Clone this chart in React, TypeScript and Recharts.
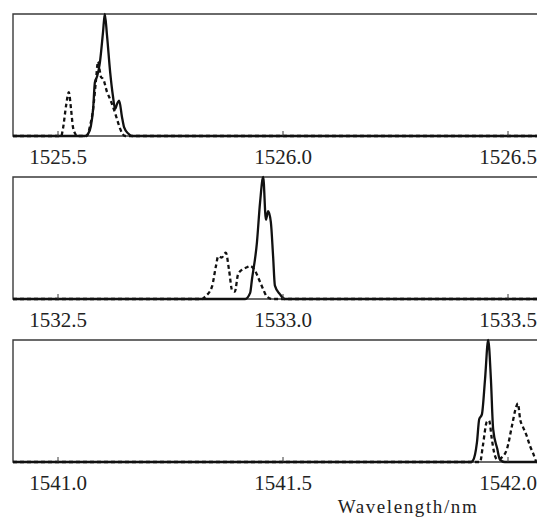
import { Line, LineChart, ReferenceArea, XAxis, YAxis } from 'recharts';

const FONT = 'Liberation Serif';
const INK = '#111';
const FRAME = '#3a3a3a';

// wavelength (nm) / normalised intensity
const P1_DOMAIN: [number, number] = [1525.4, 1526.6];
const P1_TICKS = [1525.5, 1526.0, 1526.5];
const P1_SOLID = [
  { wl: 1525.4, v: 0 }, { wl: 1525.56, v: 0 }, { wl: 1525.567, v: 0.02 }, { wl: 1525.573, v: 0.08 },
  { wl: 1525.578, v: 0.22 }, { wl: 1525.582, v: 0.44 }, { wl: 1525.587, v: 0.49 }, { wl: 1525.593, v: 0.6 },
  { wl: 1525.6, v: 0.85 }, { wl: 1525.604, v: 1.0 }, { wl: 1525.609, v: 0.82 }, { wl: 1525.616, v: 0.52 },
  { wl: 1525.622, v: 0.33 }, { wl: 1525.627, v: 0.22 }, { wl: 1525.631, v: 0.26 }, { wl: 1525.636, v: 0.29 },
  { wl: 1525.642, v: 0.16 }, { wl: 1525.647, v: 0.07 }, { wl: 1525.656, v: 0.02 }, { wl: 1525.664, v: 0 },
  { wl: 1526.6, v: 0 },
];
const P1_DASHED = [
  { wl: 1525.4, v: 0 }, { wl: 1525.507, v: 0 }, { wl: 1525.511, v: 0.06 }, { wl: 1525.518, v: 0.25 },
  { wl: 1525.524, v: 0.36 }, { wl: 1525.529, v: 0.22 }, { wl: 1525.533, v: 0.08 }, { wl: 1525.538, v: 0.02 },
  { wl: 1525.542, v: 0 }, { wl: 1525.564, v: 0 }, { wl: 1525.571, v: 0.08 }, { wl: 1525.578, v: 0.22 },
  { wl: 1525.584, v: 0.44 }, { wl: 1525.589, v: 0.61 }, { wl: 1525.593, v: 0.53 }, { wl: 1525.596, v: 0.48 },
  { wl: 1525.6, v: 0.47 }, { wl: 1525.609, v: 0.36 }, { wl: 1525.616, v: 0.3 }, { wl: 1525.624, v: 0.22 },
  { wl: 1525.631, v: 0.14 }, { wl: 1525.638, v: 0.06 }, { wl: 1525.649, v: 0 }, { wl: 1526.6, v: 0 },
];

const P2_DOMAIN: [number, number] = [1532.4, 1533.6];
const P2_TICKS = [1532.5, 1533.0, 1533.5];
const P2_SOLID = [
  { wl: 1532.4, v: 0 }, { wl: 1532.916, v: 0 }, { wl: 1532.927, v: 0.05 }, { wl: 1532.931, v: 0.16 },
  { wl: 1532.942, v: 0.46 }, { wl: 1532.949, v: 0.79 }, { wl: 1532.956, v: 1.0 }, { wl: 1532.962, v: 0.65 },
  { wl: 1532.967, v: 0.72 }, { wl: 1532.973, v: 0.63 }, { wl: 1532.978, v: 0.35 }, { wl: 1532.982, v: 0.11 },
  { wl: 1532.993, v: 0.04 }, { wl: 1533.004, v: 0 }, { wl: 1533.6, v: 0 },
];
const P2_DASHED = [
  { wl: 1532.4, v: 0 }, { wl: 1532.82, v: 0 }, { wl: 1532.827, v: 0.02 }, { wl: 1532.842, v: 0.1 },
  { wl: 1532.851, v: 0.27 }, { wl: 1532.856, v: 0.35 }, { wl: 1532.864, v: 0.34 }, { wl: 1532.873, v: 0.38 },
  { wl: 1532.88, v: 0.24 }, { wl: 1532.887, v: 0.07 }, { wl: 1532.893, v: 0.06 }, { wl: 1532.9, v: 0.2 },
  { wl: 1532.909, v: 0.24 }, { wl: 1532.92, v: 0.26 }, { wl: 1532.927, v: 0.27 }, { wl: 1532.938, v: 0.23 },
  { wl: 1532.949, v: 0.14 }, { wl: 1532.956, v: 0.08 }, { wl: 1532.964, v: 0.02 }, { wl: 1532.976, v: 0 },
  { wl: 1533.6, v: 0 },
];

const P3_DOMAIN: [number, number] = [1540.9, 1542.1];
const P3_TICKS = [1541.0, 1541.5, 1542.0];
const P3_SOLID = [
  { wl: 1540.9, v: 0 }, { wl: 1541.918, v: 0 }, { wl: 1541.922, v: 0.01 }, { wl: 1541.931, v: 0.16 },
  { wl: 1541.936, v: 0.35 }, { wl: 1541.942, v: 0.39 }, { wl: 1541.949, v: 0.68 }, { wl: 1541.956, v: 1.0 },
  { wl: 1541.962, v: 0.68 }, { wl: 1541.967, v: 0.27 }, { wl: 1541.976, v: 0.11 }, { wl: 1541.982, v: 0.02 },
  { wl: 1541.993, v: 0 }, { wl: 1542.1, v: 0 },
];
const P3_DASHED = [
  { wl: 1540.9, v: 0 }, { wl: 1541.938, v: 0 }, { wl: 1541.944, v: 0.13 }, { wl: 1541.953, v: 0.33 },
  { wl: 1541.958, v: 0.34 }, { wl: 1541.964, v: 0.19 }, { wl: 1541.969, v: 0.08 }, { wl: 1541.976, v: 0.02 },
  { wl: 1541.987, v: 0.04 }, { wl: 1541.998, v: 0.11 }, { wl: 1542.009, v: 0.3 }, { wl: 1542.018, v: 0.45 },
  { wl: 1542.022, v: 0.48 }, { wl: 1542.027, v: 0.35 }, { wl: 1542.033, v: 0.29 }, { wl: 1542.042, v: 0.21 },
  { wl: 1542.049, v: 0.13 }, { wl: 1542.056, v: 0.07 }, { wl: 1542.064, v: 0 }, { wl: 1542.1, v: 0 },
];

const X_TITLE = 'Wavelength/nm';

function InwardTick(props: any) {
  const { x, y, payload } = props;
  return (
    <g>
      <line x1={x} x2={x} y1={y} y2={y - 5} stroke={FRAME} strokeWidth={1} />
      <text x={x} y={y + 28} textAnchor="middle" fontFamily={FONT} fontSize={21} fill="#222">
        {Number(payload.value).toFixed(1)}
      </text>
    </g>
  );
}

function Panel({
  domain,
  ticks,
  solid,
  dashed,
  title,
}: {
  domain: [number, number];
  ticks: number[];
  solid: { wl: number; v: number }[];
  dashed: { wl: number; v: number }[];
  title?: string;
}) {
  const axisH = title ? 56 : 35;
  return (
    <LineChart width={545} height={128 + axisH} margin={{ top: 6, right: 0, left: 5, bottom: 0 }}>
      <XAxis
        type="number"
        dataKey="wl"
        domain={domain}
        ticks={ticks}
        interval={0}
        axisLine={false}
        tickLine={false}
        tickSize={0}
        tickMargin={0}
        height={axisH}
        tick={<InwardTick />}
        label={
          title
            ? {
                content: (p: any) => {
                  const vb = p.viewBox ?? { x: 5, y: 128 };
                  return (
                    <text
                      x={vb.x + 395}
                      y={vb.y + 51}
                      textAnchor="middle"
                      fontFamily={FONT}
                      fontSize={19}
                      letterSpacing={1.6}
                      fill="#222"
                    >
                      {title}
                    </text>
                  );
                },
              }
            : undefined
        }
      />
      <YAxis type="number" domain={[0, 1]} hide />
      <ReferenceArea
        x1={domain[0]}
        x2={domain[1]}
        y1={0}
        y2={1}
        fill="none"
        stroke={FRAME}
        strokeWidth={1.4}
        ifOverflow="visible"
      />
      <Line
        data={dashed}
        dataKey="v"
        type="monotone"
        stroke={INK}
        strokeWidth={2.3}
        strokeDasharray="4 3"
        dot={false}
        isAnimationActive={false}
      />
      <Line
        data={solid}
        dataKey="v"
        type="monotone"
        stroke={INK}
        strokeWidth={2.3}
        dot={false}
        isAnimationActive={false}
      />
    </LineChart>
  );
}

export default function App() {
  return (
    <div
      style={{
        width: 537,
        height: 510,
        overflow: 'hidden',
        background: '#fff',
        fontFamily: "'Liberation Serif', serif",
      }}
    >
      <Panel domain={P1_DOMAIN} ticks={P1_TICKS} solid={P1_SOLID} dashed={P1_DASHED} />
      <Panel domain={P2_DOMAIN} ticks={P2_TICKS} solid={P2_SOLID} dashed={P2_DASHED} />
      <Panel domain={P3_DOMAIN} ticks={P3_TICKS} solid={P3_SOLID} dashed={P3_DASHED} title={X_TITLE} />
    </div>
  );
}
